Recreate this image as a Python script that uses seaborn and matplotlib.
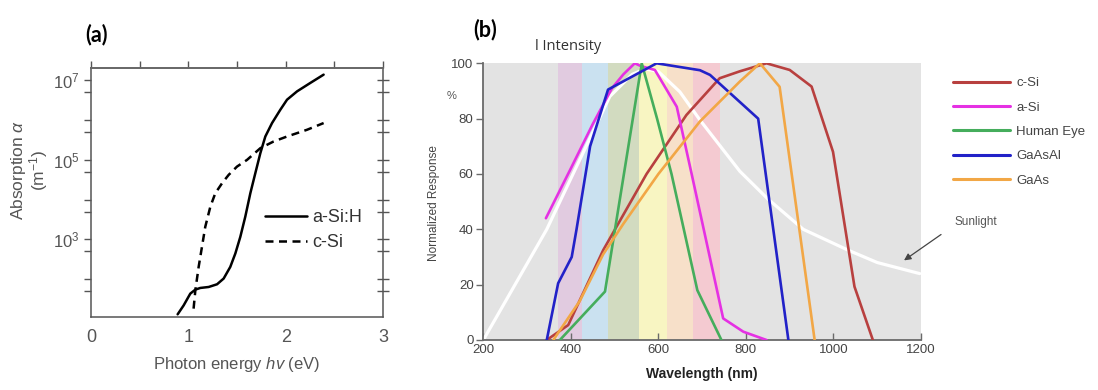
import numpy as np
import pandas as pd
import matplotlib
matplotlib.use("Agg")
import matplotlib.pyplot as plt
import seaborn as sns
from matplotlib.ticker import FixedLocator, NullFormatter, FuncFormatter, MultipleLocator

# ---------------- data: panel (a) ----------------
energy_asih = [0.890, 0.952, 1.020, 1.072, 1.123, 1.209, 1.295, 1.363, 1.431, 1.483, 1.534,
               1.585, 1.637, 1.688, 1.740, 1.791, 1.860, 1.945, 2.014, 2.117, 2.253, 2.390]
alpha_asih = [13.1, 22.0, 43.4, 54.8, 60.3, 63.8, 74.6, 104, 204, 444, 1160,
              3720, 1.45e4, 4.61e4, 1.48e5, 3.87e5, 8.43e5, 1.82e6, 3.26e6, 5.28e6, 8.59e6, 1.39e7]
energy_csi = [1.054, 1.072, 1.106, 1.140, 1.174, 1.226, 1.277, 1.346, 1.414, 1.500, 1.603,
              1.740, 1.876, 2.014, 2.219, 2.390]
alpha_csi = [18.2, 52.6, 204, 652, 2080, 6640, 1.45e4, 2.58e4, 4.19e4, 6.78e4, 1.0e5,
             1.97e5, 2.90e5, 3.87e5, 5.71e5, 8.43e5]
labels_a = ["a-Si:H", "c-Si"]

# ---------------- data: panel (b) ----------------
sun_wl = [200, 345, 489, 540, 570, 600, 649, 695, 786, 850, 931, 1033, 1100, 1197]
sun_val = [0, 40, 88, 96, 98, 97, 89.7, 79.5, 61, 51, 40, 32.5, 28, 24]

csi_wl = [345, 394, 474, 573, 664, 740, 786, 847, 900, 950, 999, 1048, 1090]
csi_val = [0, 5.4, 32.5, 60, 81.3, 94.6, 97.1, 100, 97.6, 91.6, 68, 19.3, 0]

asi_wl = [343, 400, 450, 494, 520, 546, 560, 592, 642, 676, 748, 794, 847]
asi_val = [44, 62, 78, 91, 96, 100, 99, 97.6, 84.3, 60, 7.8, 3, 0]

eye_wl = [375, 478, 562, 597, 630, 689, 744]
eye_val = [0, 17.5, 100, 80, 60, 18, 0]

gaasal_wl = [345, 371, 402, 413, 444, 485, 596, 695, 718, 828, 897]
gaasal_val = [0, 20.5, 30, 40, 70, 90.5, 100, 97.5, 95.8, 80, 0]

gaas_wl = [360, 420, 474, 520, 600, 695, 786, 832, 877, 957]
gaas_val = [0, 14, 31, 42, 60, 79, 93.4, 100, 91.5, 0]

series_b = ["c-Si", "a-Si", "Human Eye", "GaAsAl", "GaAs"]
band_edges = [370, 425, 485, 555, 620, 680, 740]
band_colors = ["#e1cbe0", "#cae1f0", "#d2dbc0", "#f8f5c2", "#f7e0c9", "#f4cad1"]
xticks_b = [200, 400, 600, 800, 1000, 1200]
yticks_b = [0, 20, 40, 60, 80, 100]

# ---------------- style ----------------
sns.set_theme(style="white")
plt.rcParams["font.family"] = ["Liberation Sans", "DejaVu Sans"]
plt.rcParams["mathtext.fontset"] = "custom"
plt.rcParams["mathtext.rm"] = "Liberation Sans"
plt.rcParams["mathtext.it"] = "Liberation Sans:italic"
plt.rcParams["mathtext.bf"] = "Liberation Sans:bold"

W, H = 1098, 390
fig = plt.figure(figsize=(W / 100, H / 100), dpi=100)

def fx(px):
    return px / W

def fy(py):
    return 1 - py / H

# ================= panel (a) =================
axa = fig.add_axes([fx(91), fy(317), fx(292), 249 / H])
gray_a = "#555555"
sns.lineplot(x=energy_asih, y=alpha_asih, ax=axa, color="black", lw=1.8,
             label=labels_a[0], sort=False)
sns.lineplot(x=energy_csi, y=alpha_csi, ax=axa, color="black", lw=1.8,
             linestyle=(0, (3.2, 2.2)), label=labels_a[1], sort=False)
axa.set_yscale("log")
axa.set_xlim(0, 3)
axa.set_ylim(10 ** 1.05, 10 ** 7.31)

axa.xaxis.set_major_locator(MultipleLocator(1))
axa.xaxis.set_minor_locator(MultipleLocator(0.5))
axa.yaxis.set_major_locator(FixedLocator([10.0 ** k for k in range(2, 8)]))
axa.yaxis.set_minor_locator(FixedLocator([5 * 10.0 ** k for k in range(1, 7)]))
axa.yaxis.set_minor_formatter(NullFormatter())

def yfmt(v, p):
    k = int(round(np.log10(v)))
    return r"$\mathregular{10^{%d}}$" % k if k in (3, 5, 7) else ""

axa.yaxis.set_major_formatter(FuncFormatter(yfmt))
axa.tick_params(which="both", direction="out", length=5, width=1.0, color=gray_a,
                top=True, right=False, labelcolor=gray_a)
axa.tick_params(axis="x", which="major", labelsize=13, pad=4)
axa.tick_params(axis="y", which="major", labelsize=12, pad=3)
for s in axa.spines.values():
    s.set_color(gray_a)
    s.set_linewidth(1.1)
axa.spines["top"].set_linewidth(1.4)
axa.spines["top"].set_color("#666666")

# right side ticks cross the frame
axr = axa.twinx()
axr.set_yscale("log")
axr.set_ylim(axa.get_ylim())
axr.yaxis.set_major_locator(FixedLocator([10.0 ** k for k in range(2, 8)]))
axr.yaxis.set_minor_locator(FixedLocator([5 * 10.0 ** k for k in range(1, 7)]))
axr.yaxis.set_major_formatter(NullFormatter())
axr.yaxis.set_minor_formatter(NullFormatter())
axr.tick_params(which="both", direction="inout", length=8, width=1.0, color=gray_a)
axr.grid(False)
for s in axr.spines.values():
    s.set_visible(False)

axa.set_xlabel(r"Photon energy $\mathit{hv}$ (eV)", fontsize=12, color=gray_a, labelpad=6)
axa.set_ylabel("Absorption $\\it{\\alpha}$\n(m$^{-1}$)", fontsize=12.5, color=gray_a,
               linespacing=0.95)
axa.yaxis.set_label_coords((50 - 91) / 292, (317 - 170) / 249)
leg_a = axa.legend(loc="upper left", bbox_to_anchor=(fx(265), fy(209)),
                   bbox_transform=fig.transFigure, frameon=False, handlelength=2.3,
                   handletextpad=0.3, borderpad=0, borderaxespad=0, labelspacing=0.45,
                   fontsize=13)
for t in leg_a.get_texts():
    t.set_color("#333333")
axa.grid(False)

# ================= panel (b) =================
axb = fig.add_axes([fx(483.3), fy(340), fx(437.7), 276.7 / H])
axb.set_facecolor("#e3e3e3")
for i, c in enumerate(band_colors):
    axb.axvspan(band_edges[i], band_edges[i + 1], color=c, lw=0, zorder=0.5)

sns.lineplot(x=sun_wl, y=sun_val, ax=axb, color="white", lw=2.3, sort=False, zorder=2)
colors_b = ["#b8403f", "#e531e3", "#45ad5c", "#2222c8", "#f2a746"]
data_b = [(csi_wl, csi_val), (asi_wl, asi_val), (eye_wl, eye_val),
          (gaasal_wl, gaasal_val), (gaas_wl, gaas_val)]
for name, col, (xs, ys) in zip(series_b, colors_b, data_b):
    sns.lineplot(x=xs, y=ys, ax=axb, color=col, lw=1.9, label=name, sort=False, zorder=3)

axb.set_xlim(200, 1200)
axb.set_ylim(0, 100)
axb.set_xticks(xticks_b)
axb.set_yticks(yticks_b)
axb.grid(False)
for side in ("top", "right"):
    axb.spines[side].set_visible(False)
for side in ("left", "bottom"):
    axb.spines[side].set_color("#6a6a6a")
    axb.spines[side].set_linewidth(1.3)
axb.tick_params(axis="y", direction="out", length=5, width=1.0, color="#6a6a6a",
                labelsize=9.5, labelcolor="#444444", pad=2, left=True)
axb.tick_params(axis="x", direction="in", length=5, width=1.0, color="#6a6a6a",
                labelsize=9.5, labelcolor="#444444", pad=3, bottom=True)
axb.set_xlabel("Wavelength (nm)", fontsize=10, fontweight="bold", color="#222222",
               labelpad=8)
axb.set_ylabel("Normalized Response", fontsize=8.5, color="#444444")
axb.yaxis.set_label_coords((440 - 483.3) / 437.7, (340 - 203) / 276.7)

leg_b = axb.legend(loc="upper left", bbox_to_anchor=(fx(953), fy(77)),
                   bbox_transform=fig.transFigure, frameon=False, handlelength=4.3,
                   handletextpad=0.5, borderpad=0, borderaxespad=0, labelspacing=0.92,
                   fontsize=9.5)
for t in leg_b.get_texts():
    t.set_color("#444444")
for l in leg_b.get_lines():
    l.set_linewidth(2.2)

axb.annotate("", xy=(1156, 28.2), xytext=(1251, 38.7),
             arrowprops=dict(arrowstyle="-|>", color="#444444", lw=0.9, mutation_scale=10),
             annotation_clip=False)
axb.text(1277, 42.7, "Sunlight", fontsize=8.5, color="#555555", ha="left", va="center",
         clip_on=False)

fig.text(fx(451.7), fy(96), "%", fontsize=8, color="#555555", ha="center", va="center")
fig.text(fx(535), fy(47), "l Intensity", fontsize=10.5, color="#333333", ha="left",
         va="center", family=["Open Sans", "DejaVu Sans"])
fig.text(fx(97), fy(35), "(a)", fontsize=15.5, fontweight="bold", color="black",
         ha="center", va="center", family=["Lato", "DejaVu Sans"])
fig.text(fx(485), fy(30), "(b)", fontsize=15.5, fontweight="bold", color="black",
         ha="center", va="center", family=["Lato", "DejaVu Sans"])

fig.savefig("out.png", dpi=100, facecolor="white")
